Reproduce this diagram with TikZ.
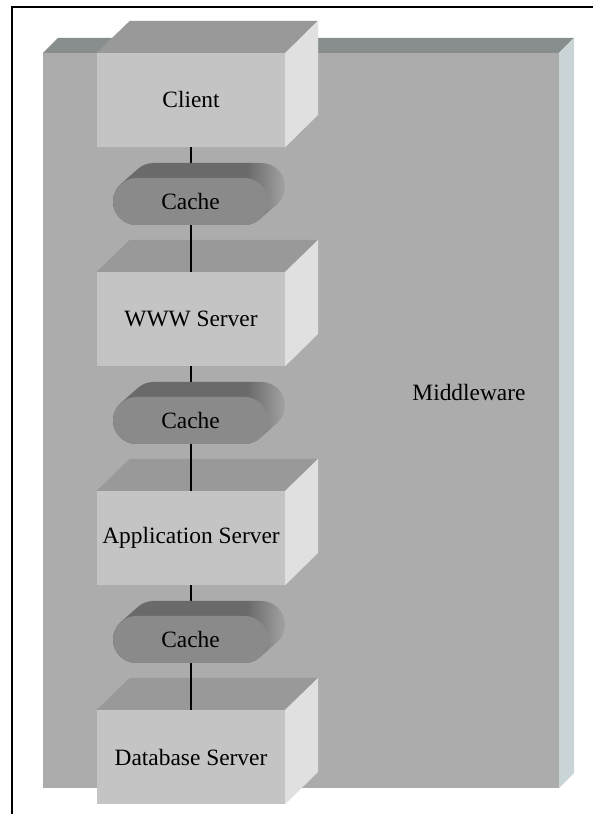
\documentclass[tikz,border=0pt]{standalone}
\usepackage{fontspec}
\setmainfont{Liberation Serif}
\usepackage{tikz}
\usetikzlibrary{shapes.misc}
\definecolor{slabfront}{HTML}{ACACAC}
\definecolor{slabtop}{HTML}{888E8E}
\definecolor{slabside}{HTML}{C8D4D6}
\definecolor{boxfront}{HTML}{C4C4C4}
\definecolor{boxtop}{HTML}{999999}
\definecolor{boxside}{HTML}{E0E0E0}
\definecolor{cachefront}{HTML}{8A8A8A}
\definecolor{cachetop}{HTML}{6A6A6A}
\definecolor{cacheend}{HTML}{A2A2A2}
\pgfdeclarehorizontalshading{cacheside}{100bp}{color(0bp)=(cachetop); color(64bp)=(cachetop); color(75bp)=(cacheend); color(100bp)=(cacheend)}

\newcommand{\boxfaces}[1]{%
  \fill[boxtop] (#1.north west) -- ++(33,32) -- ++(188,0) -- (#1.north east) -- cycle;
  \fill[boxside] (#1.north east) -- ++(33,32) -- ++(0,-94) -- (#1.south east) -- cycle;}

\begin{document}
\begin{tikzpicture}[x=1pt,y=1pt]
\useasboundingbox (0,0) rectangle (593,814);
\draw[line width=1.5pt] (12,0) -- (12,807) -- (593,807);

% middleware slab
\fill[slabtop] (43,761) -- (58,776) -- (574,776) -- (559,761) -- cycle;
\fill[slabside] (559,761) -- (574,776) -- (574,41) -- (559,26) -- cycle;
\fill[slabfront] (43,26) rectangle (559,761);
\node[font=\fontsize{23.4}{27}\selectfont] (mw) at (469,421) {Middleware};

\begin{scope}[every node/.style={rectangle,fill=boxfront,inner sep=0pt,
              minimum width=188pt,minimum height=94pt,
              font=\fontsize{23.4}{27}\selectfont}]
    \node (client) at (191,714) {Client};
    \node (www) at (191,495) {WWW Server};
    \node (app) at (191,276) {Application Server};
    \node (db) at (191,57) {Database Server};
\end{scope}
\foreach \b in {client,www,app,db} {\boxfaces{\b}}

\begin{scope}[every edge/.style={draw=black,line width=1.2pt}]
    \path [-] (client) edge (www);
    \path [-] (www) edge (app);
    \path [-] (app) edge (db);
\end{scope}

% caches
\foreach \n/\y in {cacheA/612.5,cacheB/393.5,cacheC/174.5} {
  \begin{scope}[shift={(190.5,\y)}]
    \path[shading=cacheside] (-54,0) ++(131.4:23.5) -- ++(17,15)
      arc[start angle=131.4,end angle=90,radius=23.5] -- ++(108,0)
      arc[start angle=90,end angle=-48.6,radius=23.5] -- ++(-17,-15)
      arc[start angle=-48.6,end angle=-90,radius=23.5] -- ++(-108,0)
      arc[start angle=270,end angle=131.4,radius=23.5] -- cycle;
  \end{scope}
  \node[rounded rectangle,fill=cachefront,inner sep=0pt,minimum width=155pt,
        minimum height=47pt,font=\fontsize{23.4}{27}\selectfont] (\n) at (190.5,\y) {Cache};
}
\end{tikzpicture}
\end{document}
